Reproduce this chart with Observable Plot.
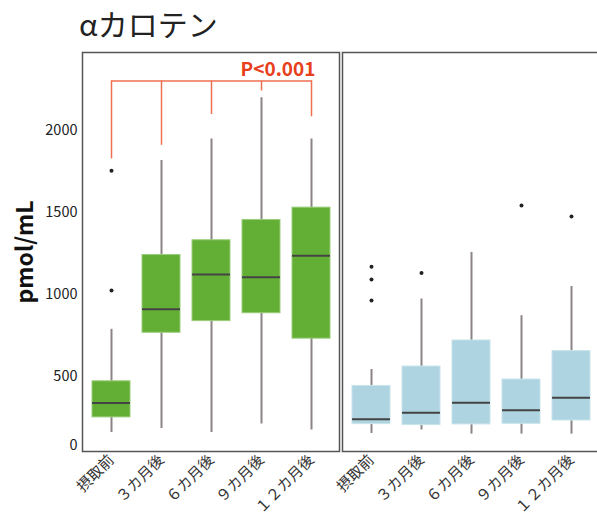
<!DOCTYPE html>
<html><head><meta charset="utf-8">
<script src="https://cdn.jsdelivr.net/npm/d3@7"></script>
<script src="https://cdn.jsdelivr.net/npm/@observablehq/plot@0.6"></script>
<style>
body{margin:0;background:#fff;font-family:"Noto Sans CJK JP","Noto Sans",sans-serif;}
#title{height:40px;line-height:46px;font-size:30px;padding-left:79px;color:#222;white-space:nowrap;}
#chart svg{display:block;overflow:visible;}
g[aria-label="y-axis label"] text{font-size:23px;font-weight:bold;fill:#111;}
</style></head><body>
<div id="title">αカロテン</div>
<div id="chart"></div>
<script>
const periods = ["摂取前","３カ月後","６カ月後","９カ月後","１２カ月後"];
const groups = ["摂取群","対照群"];
const greenLowWhisker = [159,184,159,210,174];
const greenQ1 = [251,767,838,886,731];
const greenMedian = [339,910,1123,1106,1237];
const greenQ3 = [471,1241,1331,1455,1530];
const greenHighWhisker = [788,1818,1949,2200,1949];
const greenOutliers = [[1755,1024],[],[],[],[]];
const blueLowWhisker = [153,174,149,149,149];
const blueQ1 = [210,204,208,212,232];
const blueMedian = [239,280,341,294,370];
const blueQ3 = [443,561,720,482,655];
const blueHighWhisker = [543,973,1257,871,1049];
const blueOutliers = [[1169,1092,963],[1131],[],[1543],[1476]];
const bracketTop = 2302;
const bracketDropEnds = [1827,1910,2098,2241,2084];
const pLabel = "P<0.001";
const pLabelY = 2372;
const yTickValues = [80,500,1000,1500,2000];
const yTickLabels = ["0","500","1000","1500","2000"];
const yDomain = [43, 2476];
const greenFill = "#63ae34", greenEdge = "#9ccd7c";
const blueFill = "#add4e0", blueEdge = "#c9e4ec";

function boxes(group, lo, q1, med, q3, hi) {
  return periods.map((p, i) => ({group, period: p, lo: lo[i], q1: q1[i], med: med[i], q3: q3[i], hi: hi[i]}));
}
const greenBoxes = boxes(groups[0], greenLowWhisker, greenQ1, greenMedian, greenQ3, greenHighWhisker);
const blueBoxes = boxes(groups[1], blueLowWhisker, blueQ1, blueMedian, blueQ3, blueHighWhisker);
const allBoxes = greenBoxes.concat(blueBoxes);
const outliers = [];
greenOutliers.forEach((vs, i) => vs.forEach(v => outliers.push({group: groups[0], period: periods[i], y: v})));
blueOutliers.forEach((vs, i) => vs.forEach(v => outliers.push({group: groups[1], period: periods[i], y: v})));
const drops = periods.map((p, i) => ({group: groups[0], period: p, y1: bracketDropEnds[i], y2: bracketTop}));
const bracketLine = [periods[0], periods[periods.length - 1]].map(p => ({group: groups[0], period: p, y: bracketTop}));
const pText = [{group: groups[0], period: periods[periods.length - 1], y: pLabelY, text: pLabel}];

const chart = Plot.plot({
  width: 597,
  height: 477,
  marginTop: 12,
  marginBottom: 66,
  marginLeft: 81,
  marginRight: -2,
  style: {fontFamily: '"Noto Sans CJK JP","Noto Sans",sans-serif', fontSize: "12px", background: "transparent"},
  fx: {domain: groups, paddingInner: 0.012, paddingOuter: 0, axis: null},
  x: {domain: periods, paddingInner: 0.25, paddingOuter: 0.19},
  y: {domain: yDomain},
  marks: [
    Plot.ruleX(allBoxes, {fx: "group", x: "period", y1: "lo", y2: "hi", stroke: "#8c8484", strokeWidth: 2}),
    Plot.barY(greenBoxes, {fx: "group", x: "period", y1: "q1", y2: "q3", fill: greenFill, stroke: greenEdge, strokeWidth: 1}),
    Plot.barY(blueBoxes, {fx: "group", x: "period", y1: "q1", y2: "q3", fill: blueFill, stroke: blueEdge, strokeWidth: 1}),
    Plot.tickY(allBoxes, {fx: "group", x: "period", y: "med", stroke: "#444", strokeWidth: 2}),
    Plot.dot(outliers, {fx: "group", x: "period", y: "y", r: 2, fill: "#222", stroke: null}),
    Plot.ruleX(drops, {fx: "group", x: "period", y1: "y1", y2: "y2", stroke: "#ef7050", strokeWidth: 1.5}),
    Plot.line(bracketLine, {fx: "group", x: "period", y: "y", stroke: "#ef7050", strokeWidth: 1.5}),
    Plot.text(pText, {fx: "group", x: "period", y: "y", text: "text", textAnchor: "end", dx: 4, fill: "#e8401c", fontSize: 19, fontWeight: "bold"}),
    Plot.frame({stroke: "#555", strokeWidth: 1.5}),
    Plot.axisY({ticks: yTickValues, tickFormat: d => yTickLabels[yTickValues.indexOf(d)], tickSize: 0, tickPadding: 5, fontSize: 14.5, fill: "#222", label: "pmol/mL", labelAnchor: "center", labelOffset: 66, labelArrow: "none"}),
    Plot.axisX({tickRotate: -45, tickSize: 0, tickPadding: 6, fontSize: 15, fill: "#333", label: null})
  ]
});
document.getElementById("chart").appendChild(chart);
</script>
</body></html>
